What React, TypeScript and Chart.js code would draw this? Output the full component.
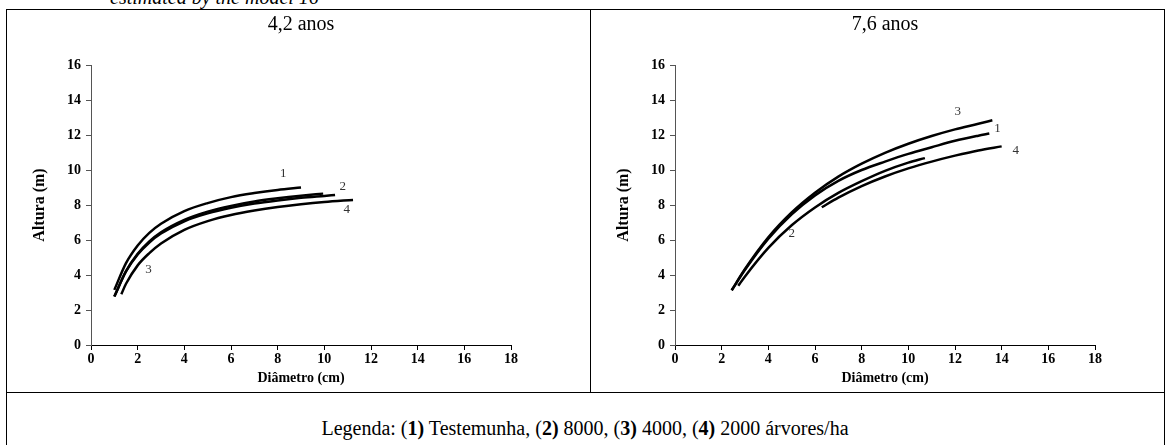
import React, { useEffect, useRef } from "react";
import { Chart, registerables } from "chart.js";

Chart.register(...registerables);

const SERIF = "'Liberation Serif', 'Times New Roman', serif";

// ---- axis ticks ----
const xTickValues = [0, 2, 4, 6, 8, 10, 12, 14, 16, 18];
const yTickValues = [0, 2, 4, 6, 8, 10, 12, 14, 16];

// ---- 4,2 anos ----
const a42_1x = [1.0, 1.5, 2, 2.5, 3, 4, 5, 6, 7, 8, 9];
const a42_1y = [3.15, 4.68, 5.69, 6.41, 6.93, 7.65, 8.11, 8.45, 8.68, 8.86, 9.0];
const a42_2x = [1.0, 1.5, 2, 2.5, 3, 4, 5, 6, 7, 8, 9, 10, 10.46];
const a42_2y = [2.77, 4.2, 5.17, 5.86, 6.37, 7.07, 7.52, 7.84, 8.08, 8.26, 8.41, 8.52, 8.57];
const a42_3x = [1.0, 1.5, 2, 2.5, 3, 4, 5, 6, 7, 8, 9, 9.95];
const a42_3y = [2.77, 4.22, 5.21, 5.92, 6.44, 7.15, 7.62, 7.95, 8.2, 8.38, 8.53, 8.65];
const a42_4x = [1.3, 1.5, 2, 2.5, 3, 4, 5, 6, 7, 8, 9, 10, 11.23];
const a42_4y = [2.9, 3.5, 4.55, 5.25, 5.8, 6.58, 7.08, 7.43, 7.68, 7.88, 8.04, 8.17, 8.29];
const a42_labels = ["1", "2", "3", "4"];
const a42_labelX = [8.24, 10.79, 2.46, 10.96];
const a42_labelY = [9.81, 9.05, 4.29, 7.75];

// ---- 7,6 anos ----
const a76_1x = [2.43, 3, 4, 5, 6, 7, 8, 9, 10, 11, 12, 13, 13.47];
const a76_1y = [3.13, 4.3, 6.08, 7.47, 8.55, 9.38, 10.0, 10.48, 10.92, 11.3, 11.67, 11.96, 12.08];
const a76_2x = [2.71, 3, 4, 5, 6, 7, 8, 9, 10, 10.71];
const a76_2y = [3.38, 3.92, 5.55, 6.84, 7.86, 8.69, 9.36, 9.95, 10.42, 10.68];
const a76_3x = [2.43, 3, 4, 5, 6, 7, 8, 9, 10, 11, 12, 13, 13.6];
const a76_3y = [3.13, 4.34, 6.15, 7.57, 8.7, 9.62, 10.36, 10.98, 11.5, 11.94, 12.32, 12.64, 12.84];
const a76_4x = [6.29, 7, 8, 9, 10, 11, 12, 13, 14];
const a76_4y = [7.87, 8.42, 9.08, 9.63, 10.09, 10.48, 10.82, 11.12, 11.35];
const a76_labels = ["1", "2", "3", "4"];
const a76_labelX = [13.82, 5.0, 12.12, 14.6];
const a76_labelY = [12.37, 6.35, 13.32, 11.12];

type Series = { name: string; x: number[]; y: number[] };

const panel42: Series[] = [
  { name: "1", x: a42_1x, y: a42_1y },
  { name: "2", x: a42_2x, y: a42_2y },
  { name: "3", x: a42_3x, y: a42_3y },
  { name: "4", x: a42_4x, y: a42_4y },
];
const panel76: Series[] = [
  { name: "1", x: a76_1x, y: a76_1y },
  { name: "2", x: a76_2x, y: a76_2y },
  { name: "3", x: a76_3x, y: a76_3y },
  { name: "4", x: a76_4x, y: a76_4y },
];

type PanelProps = {
  title: string;
  series: Series[];
  labels: string[];
  labelX: number[];
  labelY: number[];
  left: number;
  top: number;
  width: number;
  height: number;
  padRight: number;
};

function Panel(props: PanelProps) {
  const ref = useRef<HTMLCanvasElement | null>(null);
  useEffect(() => {
    if (!ref.current) return;
    const overlay = {
      id: "panelOverlay",
      afterDraw(chart: any) {
        const { ctx, chartArea, scales } = chart;
        ctx.save();
        ctx.fillStyle = "#000";
        ctx.font = `20px ${SERIF}`;
        ctx.textAlign = "center";
        ctx.textBaseline = "middle";
        ctx.fillText(props.title, (chartArea.left + chartArea.right) / 2, 15);
        ctx.fillStyle = "#333";
        ctx.font = `13px ${SERIF}`;
        props.labels.forEach((t, i) => {
          ctx.fillText(
            t,
            scales.x.getPixelForValue(props.labelX[i]),
            scales.y.getPixelForValue(props.labelY[i])
          );
        });
        ctx.restore();
      },
    };
    const chart = new Chart(ref.current, {
      type: "scatter",
      data: {
        datasets: props.series.map((s) => ({
          label: s.name,
          data: s.x.map((x, i) => ({ x, y: s.y[i] })),
          showLine: true,
          borderColor: "#000",
          borderWidth: 2.5,
          pointRadius: 0,
          pointHoverRadius: 0,
          cubicInterpolationMode: "monotone",
          fill: false,
        })),
      },
      options: {
        animation: false,
        responsive: false,
        maintainAspectRatio: false,
        devicePixelRatio: 1,
        layout: { padding: { top: 55, left: 20, right: props.padRight, bottom: 0 } },
        plugins: {
          legend: { display: false },
          tooltip: { enabled: false },
          title: { display: false },
        },
        scales: {
          x: {
            type: "linear",
            min: 0,
            max: 18,
            afterBuildTicks: (scale: any) => {
              scale.ticks = xTickValues.map((value) => ({ value }));
            },
            afterFit: (scale: any) => {
              scale.height = 47;
            },
            ticks: {
              font: { family: SERIF, size: 14, weight: "bold" },
              color: "#000",
              padding: 1,
              maxRotation: 0,
              autoSkip: false,
            },
            grid: {
              drawOnChartArea: false,
              drawTicks: true,
              tickLength: 5,
              color: "#000",
              lineWidth: 1,
            },
            border: { display: true, color: "#000", width: 1 },
            title: {
              display: true,
              text: "Diâmetro (cm)",
              font: { family: SERIF, size: 14, weight: "bold" },
              color: "#000",
              padding: { top: 0, bottom: 5 },
            },
          },
          y: {
            type: "linear",
            min: 0,
            max: 16,
            afterBuildTicks: (scale: any) => {
              scale.ticks = yTickValues.map((value) => ({ value }));
            },
            afterFit: (scale: any) => {
              scale.width = 64;
            },
            ticks: {
              font: { family: SERIF, size: 14, weight: "bold" },
              color: "#000",
              padding: 5,
            },
            grid: {
              drawOnChartArea: false,
              drawTicks: true,
              tickLength: 5,
              color: "#555",
              lineWidth: 1,
            },
            border: { display: true, color: "#555", width: 1 },
            title: {
              display: true,
              text: "Altura (m)",
              font: { family: SERIF, size: 16, weight: "bold" },
              color: "#000",
              padding: { top: 3, bottom: 0 },
            },
          },
        },
      } as any,
      plugins: [overlay],
    });
    return () => chart.destroy();
  }, []);
  return (
    <canvas
      ref={ref}
      width={props.width}
      height={props.height}
      style={{
        position: "absolute",
        left: props.left,
        top: props.top,
        width: props.width,
        height: props.height,
      }}
    />
  );
}

export default function App() {
  return (
    <div
      style={{
        position: "absolute",
        left: 0,
        top: 0,
        width: 1171,
        height: 445,
        overflow: "hidden",
        background: "#fff",
        fontFamily: SERIF,
      }}
    >
      <div
        style={{
          position: "absolute",
          left: 110,
          top: -13,
          fontSize: 20,
          lineHeight: "20px",
          fontStyle: "italic",
          whiteSpace: "nowrap",
          color: "#000",
        }}
      >
        estimated by the model 16
      </div>
      <div
        style={{
          position: "absolute",
          left: 6,
          top: 9,
          width: 1157,
          height: 500,
          border: "1px solid #000",
        }}
      />
      <div style={{ position: "absolute", left: 590, top: 9, width: 1, height: 383, background: "#000" }} />
      <div style={{ position: "absolute", left: 6, top: 392, width: 1158, height: 1, background: "#000" }} />
      <Panel
        title="4,2 anos"
        series={panel42}
        labels={a42_labels}
        labelX={a42_labelX}
        labelY={a42_labelY}
        left={7}
        top={10}
        width={583}
        height={382}
        padRight={79}
      />
      <Panel
        title="7,6 anos"
        series={panel76}
        labels={a76_labels}
        labelX={a76_labelX}
        labelY={a76_labelY}
        left={591}
        top={10}
        width={572}
        height={382}
        padRight={68}
      />
      <div
        style={{
          position: "absolute",
          left: 6,
          top: 416,
          width: 1158,
          textAlign: "center",
          fontSize: 20,
          lineHeight: "24px",
          color: "#000",
          whiteSpace: "nowrap",
        }}
      >
        Legenda: (<b>1)</b> Testemunha, (<b>2)</b> 8000, (<b>3)</b> 4000, (<b>4)</b> 2000 árvores/ha
      </div>
    </div>
  );
}
